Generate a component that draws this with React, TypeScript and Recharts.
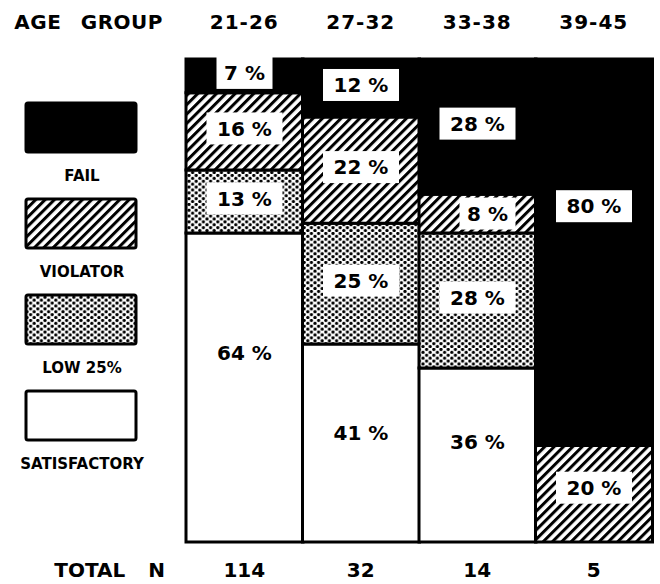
import React from 'react';
import { BarChart, Bar, XAxis, YAxis, LabelList, Label, Legend } from 'recharts';

const ageGroups = ['21-26', '27-32', '33-38', '39-45'];
const totalN = ['114', '32', '14', '5'];
const satisfactory = [64, 41, 36, 0];
const low25 = [13, 25, 28, 0];
const violator = [16, 22, 8, 20];
const fail = [7, 12, 28, 80];

const data = ageGroups.map((age, i) => ({
  age,
  total: totalN[i],
  sat: satisfactory[i],
  low: low25[i],
  viol: violator[i],
  fail: fail[i],
}));

const FONT = '"DejaVu Sans", sans-serif';

// small nudges (px) of some value labels relative to segment centre
const LABEL_NUDGE: Record<string, [number, number]> = {
  'sat-0': [0, -35],
  'sat-1': [0, -10],
  'sat-2': [0, -13],
  'fail-3': [0, -46],
  'viol-2': [10, 0],
  'viol-3': [0, -6],
};

const makeLabel = (series: string, boxed: boolean) => (props: any) => {
  const { x, y, width, height, value, index } = props;
  if (!value) return null;
  const nudge = LABEL_NUDGE[`${series}-${index}`] || [0, -3];
  const cx = x + width / 2 + nudge[0];
  const cy = y + height / 2 + nudge[1];
  const txt = `${value} %`;
  const bw = String(value).length > 1 ? 76 : 56;
  const bh = 32;
  return (
    <g>
      {boxed && <rect x={cx - bw / 2} y={cy - bh / 2} width={bw} height={bh} fill="#fff" />}
      <text
        x={cx}
        y={cy}
        dy="0.36em"
        textAnchor="middle"
        fontFamily={FONT}
        fontWeight="bold"
        fontSize={20}
        fill="#000"
      >
        {txt}
      </text>
    </g>
  );
};

const TopTick = (props: any) => {
  const { x, payload } = props;
  return (
    <text x={x} y={29} textAnchor="middle" fontFamily={FONT} fontWeight="bold" fontSize={20} fill="#000" letterSpacing={1}>
      {payload.value}
    </text>
  );
};

const BottomTick = (props: any) => {
  const { x, payload } = props;
  return (
    <text x={x} y={577} textAnchor="middle" fontFamily={FONT} fontWeight="bold" fontSize={20} fill="#000">
      {payload.value}
    </text>
  );
};

const legendItems = [
  { name: 'FAIL', fill: '#000' },
  { name: 'VIOLATOR', fill: 'url(#lg-hatch)' },
  { name: 'LOW 25%', fill: 'url(#lg-dots)' },
  { name: 'SATISFACTORY', fill: '#fff' },
];

const PatternDefs = ({ prefix }: { prefix: string }) => (
  <defs>
    <pattern id={`${prefix}-hatch`} patternUnits="userSpaceOnUse" width={6.6} height={6.6} patternTransform="rotate(45)">
      <rect x={0} y={0} width={6.6} height={6.6} fill="#fff" />
      <rect x={0} y={0} width={3.0} height={6.6} fill="#000" />
    </pattern>
    <pattern id={`${prefix}-dots`} patternUnits="userSpaceOnUse" width={7.2} height={5.8}>
      <rect x={0} y={0} width={7.2} height={5.8} fill="#fff" />
      <circle cx={1.8} cy={1.45} r={1.6} fill="#000" />
      <circle cx={5.4} cy={4.35} r={1.6} fill="#000" />
    </pattern>
  </defs>
);

const LegendContent = () => (
  <svg width={186} height={480} style={{ display: 'block' }}>
    <PatternDefs prefix="lg" />
    {legendItems.map((it, i) => (
      <g key={it.name}>
        <rect x={26} y={103 + i * 96} width={110} height={49} fill={it.fill} stroke="#000" strokeWidth={3} rx={2} />
        <text
          x={82}
          y={103 + i * 96 + 78}
          textAnchor="middle"
          fontFamily={FONT}
          fontWeight="bold"
          fontSize={15}
          fill="#000"
        >
          {it.name}
        </text>
      </g>
    ))}
  </svg>
);

export default function App() {
  return (
    <div style={{ position: 'absolute', left: 0, top: 0, width: 660, height: 584, background: '#fff' }}>
      <BarChart
        width={660}
        height={584}
        data={data}
        margin={{ top: 0, right: 8, bottom: 0, left: 186 }}
        barCategoryGap={0}
        barGap={0}
      >
        <PatternDefs prefix="pl" />
        <XAxis
          xAxisId="top"
          orientation="top"
          dataKey="age"
          height={59}
          axisLine={false}
          tickLine={false}
          tick={<TopTick />}
          interval={0}
        >
          <Label
            content={() => (
              <text x={163} y={29} textAnchor="end" fontFamily={FONT} fontWeight="bold" fontSize={20} fill="#000" wordSpacing={12} letterSpacing={0.5}>
                AGE GROUP
              </text>
            )}
          />
        </XAxis>
        <XAxis
          xAxisId="bottom"
          orientation="bottom"
          dataKey="total"
          height={42}
          axisLine={false}
          tickLine={false}
          tick={<BottomTick />}
          interval={0}
        >
          <Label
            content={() => (
              <text x={165} y={577} textAnchor="end" fontFamily={FONT} fontWeight="bold" fontSize={20} fill="#000" wordSpacing={16}>
                TOTAL N
              </text>
            )}
          />
        </XAxis>
        <YAxis hide width={0} domain={[0, 100]} />
        <Legend
          content={<LegendContent />}
          layout="horizontal"
          verticalAlign="middle"
          align="center"
          wrapperStyle={{ position: 'absolute', left: 0, top: 0, width: 186, height: 480 }}
        />
        <Bar xAxisId="top" dataKey="sat" name="SATISFACTORY" stackId="a" fill="#fff" stroke="#000" strokeWidth={3} isAnimationActive={false}>
          <LabelList dataKey="sat" content={makeLabel('sat', false)} />
        </Bar>
        <Bar xAxisId="top" dataKey="low" name="LOW 25%" stackId="a" fill="url(#pl-dots)" stroke="#000" strokeWidth={3} isAnimationActive={false}>
          <LabelList dataKey="low" content={makeLabel('low', true)} />
        </Bar>
        <Bar xAxisId="top" dataKey="viol" name="VIOLATOR" stackId="a" fill="url(#pl-hatch)" stroke="#000" strokeWidth={3} isAnimationActive={false}>
          <LabelList dataKey="viol" content={makeLabel('viol', true)} />
        </Bar>
        <Bar xAxisId="top" dataKey="fail" name="FAIL" stackId="a" fill="#000" stroke="#000" strokeWidth={3} isAnimationActive={false}>
          <LabelList dataKey="fail" content={makeLabel('fail', true)} />
        </Bar>
      </BarChart>
    </div>
  );
}
